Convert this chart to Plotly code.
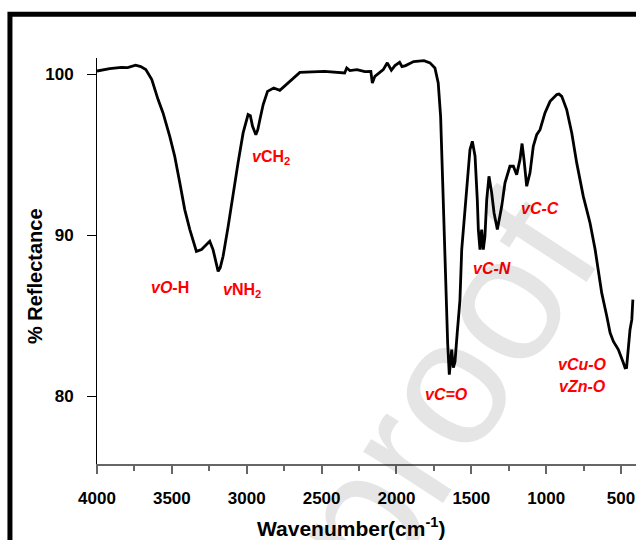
import plotly.graph_objects as go

# FTIR spectrum
wavenumber = [4000, 3915, 3837, 3795, 3742, 3708, 3674, 3634, 3592, 3559, 3514, 3481, 3447, 3414,
              3380, 3336, 3302, 3273, 3247, 3225, 3207, 3191, 3177, 3158, 3124, 3091, 3058, 3024,
              2991, 2976, 2961, 2939, 2926, 2912, 2890, 2861, 2820, 2779, 2725, 2645, 2481, 2346,
              2332, 2311, 2264, 2211, 2171, 2161, 2144, 2088, 2061, 2034, 2010, 1979, 1963, 1939,
              1885, 1816, 1776, 1743, 1721, 1705, 1691, 1676, 1665, 1658, 1647, 1631, 1620, 1609,
              1594, 1576, 1564, 1531, 1509, 1493, 1475, 1460, 1453, 1442, 1431, 1420, 1409, 1397,
              1382, 1364, 1348, 1326, 1297, 1275, 1242, 1219, 1197, 1175, 1161, 1148, 1130, 1108,
              1086, 1063, 1041, 1008, 974, 929, 914, 896, 863, 829, 796, 752, 707, 673, 651, 629,
              595, 573, 551, 518, 484, 473, 463, 451, 440, 428, 421]
reflectance = [100.19, 100.34, 100.42, 100.40, 100.55, 100.47, 100.28, 99.66, 98.42, 97.59, 96.14,
               94.90, 93.25, 91.59, 90.35, 89.00, 89.11, 89.35, 89.62, 89.11, 88.36, 87.76, 87.99,
               88.69, 90.55, 92.63, 94.49, 96.35, 97.49, 97.42, 96.76, 96.24, 96.55, 97.18, 98.11,
               98.93, 99.14, 98.99, 99.45, 100.11, 100.17, 100.07, 100.38, 100.22, 100.28, 100.16,
               100.17, 99.45, 99.86, 100.28, 100.70, 100.24, 100.53, 100.73, 100.47, 100.53, 100.78,
               100.84, 100.70, 100.38, 99.45, 97.38, 93.25, 89.11, 84.76, 83.31, 81.35, 82.90, 81.78,
               82.15, 83.94, 85.95, 89.11, 92.83, 95.31, 95.83, 94.90, 92.21, 90.35, 89.11, 90.35,
               89.11, 89.93, 92.21, 93.66, 92.63, 91.38, 90.35, 91.79, 93.25, 94.28, 94.28, 93.76,
               94.69, 95.69, 94.69, 93.04, 93.87, 95.52, 96.24, 96.55, 97.59, 98.31, 98.73, 98.76,
               98.62, 97.80, 96.35, 94.49, 92.41, 90.76, 89.11, 87.86, 86.42, 84.97, 83.94, 83.41,
               82.90, 82.07, 81.76, 81.78, 83.10, 84.14, 84.76, 86.00]

# Band assignments
band_labels = ["<b><i>vO</i>-H</b>", "<b><i>v</i>NH<sub>2</sub></b>", "<b><i>v</i>CH<sub>2</sub></b>",
               "<b><i>vC=O</i></b>", "<b><i>vC-N</i></b>", "<b><i>vC-C</i></b>",
               "<b><i>vCu-O</i></b>", "<b><i>vZn-O</i></b>"]
band_x = [3514, 3033, 2839, 1663, 1362, 1041, 760, 760]
band_y = [86.75, 86.55, 94.85, 80.11, 87.93, 91.65, 81.97, 80.6]

x_ticks = [4000, 3500, 3000, 2500, 2000, 1500, 1000, 500]
y_ticks = [80, 90, 100]

FONT = "Arial, Liberation Sans, sans-serif"

fig = go.Figure()

# outer frame
fig.add_shape(type="rect", xref="paper", yref="paper", x0=-0.1615, x1=1.05, y0=-0.25, y1=1.108,
              line=dict(color="black", width=5), fillcolor="rgba(0,0,0,0)", layer="below")

fig.add_trace(go.Scatter(x=wavenumber, y=reflectance, mode="lines",
                         line=dict(color="black", width=2.8), hoverinfo="skip"))

for t, x, y in zip(band_labels, band_x, band_y):
    fig.add_annotation(x=x, y=y, text=t, showarrow=False, xref="x", yref="y",
                       xanchor="center", yanchor="middle",
                       font=dict(family=FONT, size=16, color="#ff0000"))

# watermark
fig.add_annotation(x=0.64, y=0.18, xref="paper", yref="paper", text="proof", showarrow=False,
                   xanchor="center", yanchor="middle",
                   textangle=-57, font=dict(family=FONT, size=180, color="rgba(0,0,0,0.1)"))

# axis titles
fig.add_annotation(x=0.472, y=-0.155, xref="paper", yref="paper", showarrow=False,
                   xanchor="center", yanchor="middle",
                   text="<b>Wavenumber(cm<sup>-1</sup>)</b>",
                   font=dict(family=FONT, size=21, color="black"))
fig.add_annotation(x=-0.115, y=0.463, xref="paper", yref="paper", showarrow=False,
                   xanchor="center", yanchor="middle",
                   text="<b>% Reflectance</b>", textangle=-90,
                   font=dict(family=FONT, size=20, color="black"))

fig.update_layout(
    width=636, height=540,
    margin=dict(l=97, r=0, t=58, b=76),
    paper_bgcolor="white", plot_bgcolor="rgba(0,0,0,0)",
    showlegend=False,
    font=dict(family=FONT, color="black"),
    xaxis=dict(range=[4000, 400], tickvals=x_ticks, ticks="outside", ticklen=8, tickwidth=1.5,
               tickcolor="#666", showline=True, linecolor="#666", linewidth=2, showgrid=False,
               zeroline=False, ticklabelstandoff=10,
               tickfont=dict(family=FONT, size=17, color="black", weight="bold"),
               minor=dict(ticks="outside", ticklen=5, dtick=250, tick0=0, tickcolor="#666",
                          tickwidth=1.5, showgrid=False)),
    yaxis=dict(range=[75.8, 101.0], tickvals=y_ticks, ticks="outside", ticklen=9, tickwidth=1,
               tickcolor="black", showline=True, linecolor="black", linewidth=1, showgrid=False,
               zeroline=False, ticklabelstandoff=10,
               tickfont=dict(family=FONT, size=17, color="black", weight="bold")),
)

fig.write_html("out.html")
